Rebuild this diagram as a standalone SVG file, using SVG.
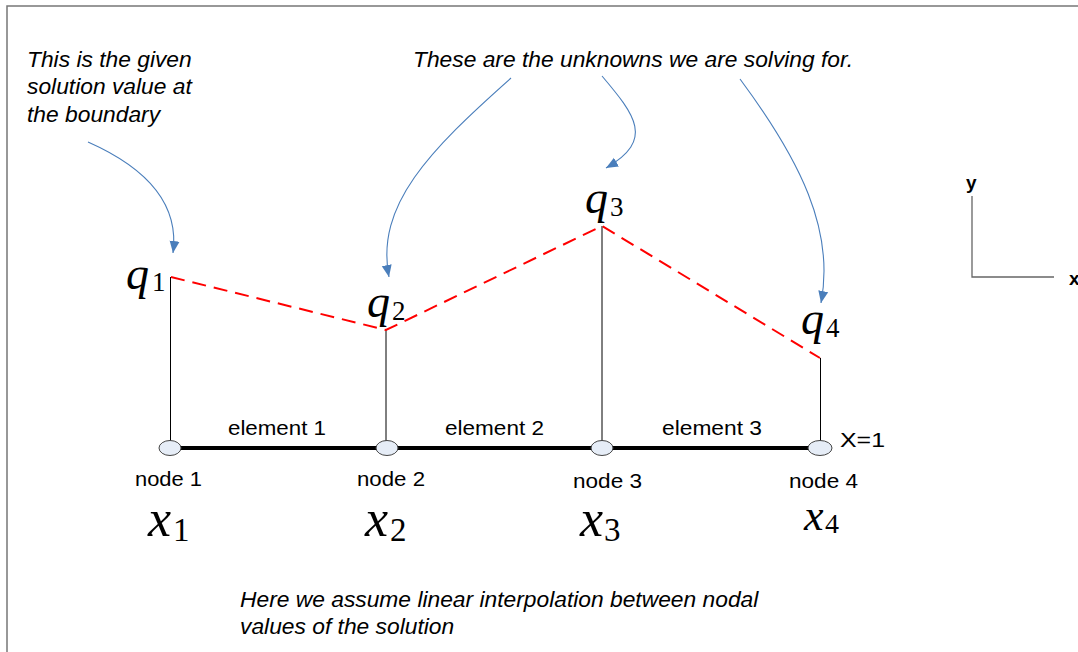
<svg xmlns="http://www.w3.org/2000/svg" width="1078" height="652" viewBox="0 0 1078 652">
<style>
.note{font-family:"Liberation Sans",Arial,sans-serif;font-style:italic;font-size:22.8px;fill:#000}
.lbl{font-family:"Liberation Sans",Arial,sans-serif;font-size:21px;fill:#000}
.ax{font-family:"Liberation Sans",Arial,sans-serif;font-size:19px;font-weight:bold;fill:#000}
.q{font-family:"Liberation Serif","Times New Roman",serif;font-style:italic;font-size:46px;fill:#000}
.qs{font-family:"Liberation Serif","Times New Roman",serif;font-size:27px;fill:#000}
.xv{font-family:"Liberation Serif","Times New Roman",serif;font-style:italic;font-size:52px;fill:#000}
.xs{font-family:"Liberation Serif","Times New Roman",serif;font-size:33px;fill:#000}
.stem{stroke:#000;stroke-width:1;fill:none}
.nd{fill:#e6edf7;stroke:#444;stroke-width:1}
.bar{stroke:#000;stroke-width:4;fill:none}
.interp{stroke:#ff0000;stroke-width:2;stroke-dasharray:14 8;fill:none}
.call{stroke:#4a7ebb;stroke-width:1.1;fill:none;marker-end:url(#ah)}
.axis{stroke:#666;stroke-width:1.3;fill:none}
</style>
<defs>
<marker id="ah" viewBox="0 0 12 10" refX="12" refY="5" markerWidth="12" markerHeight="11" markerUnits="userSpaceOnUse" orient="auto">
<path d="M0,0 L12,5 L0,10 z" fill="#4a7ebb"/>
</marker>
</defs>
<rect x="7" y="6" width="1100" height="700" fill="#fff" stroke="#777" stroke-width="1.5"/>

<g id="connectors">
<line class="bar" x1="181" y1="448" x2="809" y2="448"/>
<line class="stem" x1="170.5" y1="277" x2="170.5" y2="441"/>
<line class="stem" x1="386" y1="330" x2="386" y2="441"/>
<line class="stem" x1="602" y1="226" x2="602" y2="441"/>
<line class="stem" x1="820.5" y1="358" x2="820.5" y2="441"/>
<polyline class="interp" points="171,277 386,330 602,226 820,358"/>
<path class="call" d="M88,142 C140,165 180,200 173,253"/>
<path class="call" d="M511,78 C430,150 375,205 389,277"/>
<path class="call" d="M602,76 C635,115 655,140 606,168"/>
<path class="call" d="M740,79 C800,160 835,230 821,303"/>
<polyline class="axis" points="972,196 972,277 1054,277"/>
</g>

<g id="node1">
<ellipse class="nd" cx="170" cy="448" rx="11" ry="7.5"/>
<text class="lbl" x="135" y="486" textLength="67" lengthAdjust="spacingAndGlyphs">node 1</text>
<text class="xv" x="148" y="536">x</text><text class="xs" x="173" y="541">1</text>
<text class="q" x="126" y="289">q</text><text class="qs" x="152" y="291">1</text>
</g>
<g id="node2">
<ellipse class="nd" cx="387" cy="448" rx="11" ry="7.5"/>
<text class="lbl" x="357" y="486" textLength="68" lengthAdjust="spacingAndGlyphs">node 2</text>
<text class="xv" x="365" y="536">x</text><text class="xs" x="390" y="541">2</text>
<text class="q" x="367" y="317">q</text><text class="qs" x="392" y="320">2</text>
</g>
<g id="node3">
<ellipse class="nd" cx="602" cy="448" rx="11" ry="7.5"/>
<text class="lbl" x="573" y="488" textLength="69" lengthAdjust="spacingAndGlyphs">node 3</text>
<text class="xv" x="580" y="536">x</text><text class="xs" x="604" y="541">3</text>
<text class="q" x="585" y="213">q</text><text class="qs" x="610" y="216">3</text>
</g>
<g id="node4">
<ellipse class="nd" cx="820" cy="448" rx="12" ry="7.5"/>
<text class="lbl" x="789" y="488" textLength="69" lengthAdjust="spacingAndGlyphs">node 4</text>
<text class="xv" x="804" y="530" style="font-size:44px">x</text><text class="xs" x="825" y="533" style="font-size:28px">4</text>
<text class="q" x="801" y="334">q</text><text class="qs" x="826" y="337">4</text>
<text class="lbl" x="840" y="447" textLength="45" lengthAdjust="spacingAndGlyphs">X=1</text>
</g>

<g id="elements">
<text class="lbl" x="228" y="435" textLength="98" lengthAdjust="spacingAndGlyphs">element 1</text>
<text class="lbl" x="445" y="435" textLength="99" lengthAdjust="spacingAndGlyphs">element 2</text>
<text class="lbl" x="662" y="435" textLength="100" lengthAdjust="spacingAndGlyphs">element 3</text>
</g>

<g id="notes">
<text class="note" x="27" y="67">This is the given</text>
<text class="note" x="27" y="94">solution value at</text>
<text class="note" x="27" y="122">the boundary</text>
<text class="note" x="413" y="67">These are the unknowns we are solving for.</text>
<text class="note" x="240" y="607">Here we assume linear interpolation between nodal</text>
<text class="note" x="240" y="634">values of the solution</text>
</g>

<g id="axes">
<text class="ax" x="966" y="189">y</text>
<text class="ax" x="1069" y="285">x</text>
</g>
</svg>
